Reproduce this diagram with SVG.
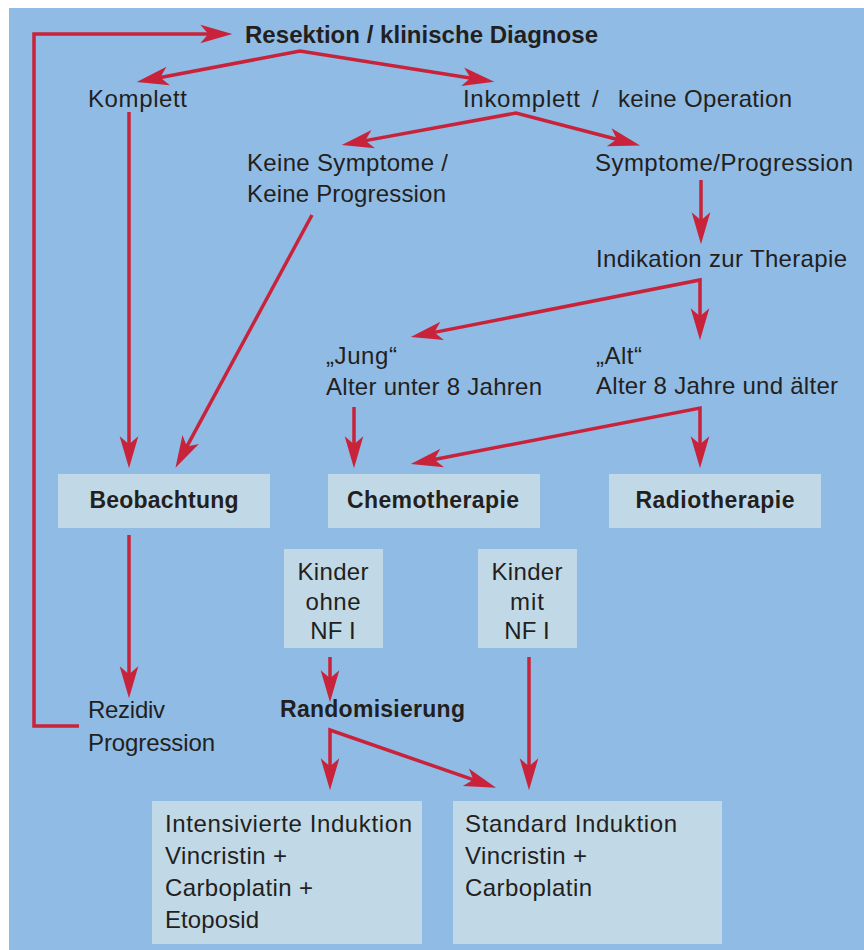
<svg xmlns="http://www.w3.org/2000/svg" width="864" height="950" viewBox="0 0 864 950">
<style>
.t{font-family:"Liberation Sans",Arial,sans-serif;font-size:24px;fill:#231f20}
.b{font-weight:bold;font-size:23px}
.box{fill:#c1d9e6}
.c{fill:none;stroke:#c8233a;stroke-width:3.5;stroke-linejoin:miter}
</style>
<defs>
<marker id="ah" markerUnits="userSpaceOnUse" markerWidth="40" markerHeight="30" viewBox="-10 -10 30 20" refX="0" refY="0" orient="auto-start-reverse" overflow="visible">
<path d="M16,0 L-8,-7 L-2,0 L-8,7 Z" fill="#c8233a"/>
</marker>
</defs>
<rect x="0" y="0" width="864" height="950" fill="#ffffff"/>
<rect x="9" y="8" width="855" height="942" fill="#90bbe4"/>

<g id="connectors">
<path class="c" d="M79,726 L34,726 L34,34 L211,34" marker-end="url(#ah)"/>
<path class="c" d="M157.7,78 L300,51 L473.2,78.5" marker-start="url(#ah)" marker-end="url(#ah)"/>
<path class="c" d="M129,112 L129,447" marker-end="url(#ah)"/>
<path class="c" d="M362.7,141.1 L516,113 L619.5,140" marker-start="url(#ah)" marker-end="url(#ah)"/>
<path class="c" d="M312,215 L185.6,448.9" marker-end="url(#ah)"/>
<path class="c" d="M701,180 L701,223" marker-end="url(#ah)"/>
<path class="c" d="M431.7,332.9 L700,280 L700,319" marker-start="url(#ah)" marker-end="url(#ah)"/>
<path class="c" d="M354,407 L354,447" marker-end="url(#ah)"/>
<path class="c" d="M431.7,460 L700,408 L700,447" marker-start="url(#ah)" marker-end="url(#ah)"/>
<path class="c" d="M129,535 L129,677" marker-end="url(#ah)"/>
<path class="c" d="M330,657 L330,681" marker-end="url(#ah)"/>
<path class="c" d="M330,769 L330,730 L475.9,780.7" marker-start="url(#ah)" marker-end="url(#ah)"/>
<path class="c" d="M529,657 L529,769" marker-end="url(#ah)"/>
</g>

<g id="resektion"><text class="t" x="245" y="43" style="font-weight:bold;font-size:24px" textLength="353">Resektion / klinische Diagnose</text></g>
<g id="komplett"><text class="t" x="88" y="107" textLength="99">Komplett</text></g>
<g id="inkomplett">
<text class="t" x="463" y="107" textLength="117">Inkomplett</text>
<text class="t" x="592" y="107">/</text>
<text class="t" x="618" y="107" textLength="174">keine Operation</text>
</g>
<g id="keine-symptome">
<text class="t" x="247" y="171" textLength="201">Keine Symptome /</text>
<text class="t" x="247" y="202" textLength="199">Keine Progression</text>
</g>
<g id="symptome"><text class="t" x="595" y="171" textLength="258">Symptome/Progression</text></g>
<g id="indikation"><text class="t" x="596" y="267" textLength="251">Indikation zur Therapie</text></g>
<g id="jung">
<text class="t" x="326" y="364" textLength="71">„Jung“</text>
<text class="t" x="326" y="395" textLength="216">Alter unter 8 Jahren</text>
</g>
<g id="alt">
<text class="t" x="596" y="364" textLength="46">„Alt“</text>
<text class="t" x="596" y="394" textLength="242">Alter 8 Jahre und älter</text>
</g>
<g id="beobachtung">
<rect class="box" x="58" y="474" width="212" height="54"/>
<text class="t b" x="164" y="508" text-anchor="middle" textLength="149">Beobachtung</text>
</g>
<g id="chemotherapie">
<rect class="box" x="328" y="474" width="212" height="54"/>
<text class="t b" x="433" y="508" text-anchor="middle" textLength="172">Chemotherapie</text>
</g>
<g id="radiotherapie">
<rect class="box" x="609" y="474" width="212" height="54"/>
<text class="t b" x="715" y="508" text-anchor="middle" textLength="159">Radiotherapie</text>
</g>
<g id="kinder-ohne">
<rect class="box" x="284" y="549" width="99" height="99"/>
<text class="t" x="333" y="580" text-anchor="middle" textLength="71">Kinder</text>
<text class="t" x="333" y="610" text-anchor="middle" textLength="55">ohne</text>
<text class="t" x="333" y="639" text-anchor="middle">NF I</text>
</g>
<g id="kinder-mit">
<rect class="box" x="478" y="549" width="99" height="99"/>
<text class="t" x="527" y="580" text-anchor="middle" textLength="71">Kinder</text>
<text class="t" x="527" y="610" text-anchor="middle" textLength="34">mit</text>
<text class="t" x="527" y="639" text-anchor="middle">NF I</text>
</g>
<g id="rezidiv">
<text class="t" x="88" y="718" textLength="77">Rezidiv</text>
<text class="t" x="88" y="751" textLength="127">Progression</text>
</g>
<g id="randomisierung"><text class="t b" x="280" y="717" textLength="185">Randomisierung</text></g>
<g id="intensivierte">
<rect class="box" x="152" y="801" width="270" height="143"/>
<text class="t" x="165" y="832" textLength="247">Intensivierte Induktion</text>
<text class="t" x="165" y="864" textLength="122">Vincristin +</text>
<text class="t" x="165" y="896" textLength="148">Carboplatin +</text>
<text class="t" x="165" y="928" textLength="94">Etoposid</text>
</g>
<g id="standard">
<rect class="box" x="453" y="801" width="269" height="143"/>
<text class="t" x="465" y="832" textLength="212">Standard Induktion</text>
<text class="t" x="465" y="864" textLength="122">Vincristin +</text>
<text class="t" x="465" y="896" textLength="127">Carboplatin</text>
</g>
</svg>
